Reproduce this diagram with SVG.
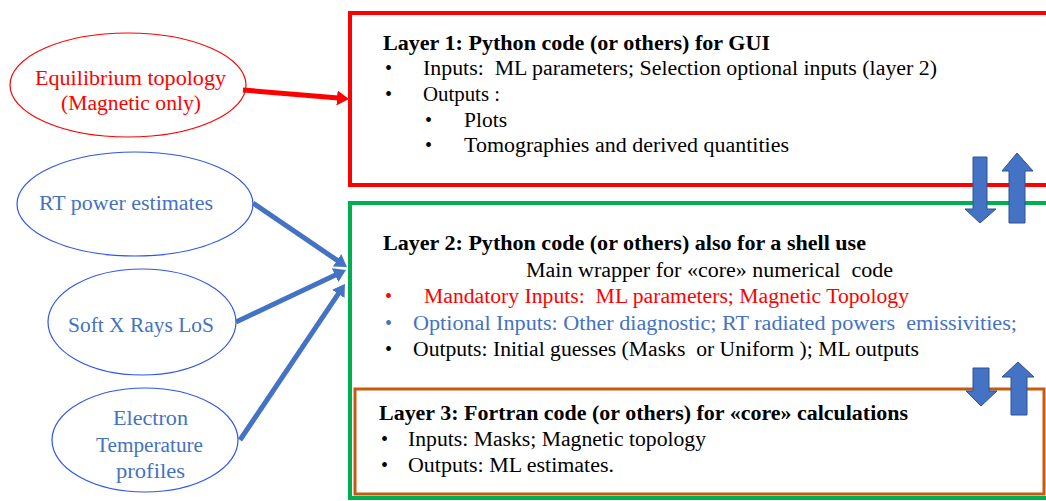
<svg xmlns="http://www.w3.org/2000/svg" width="1046" height="501" viewBox="0 0 1046 501">
<style>
text{font-family:"Times New Roman","Liberation Serif",serif;font-size:20px}
</style>
<defs>
<marker id="ar" markerWidth="3" markerHeight="3" refX="0.3" refY="1.5" orient="auto" markerUnits="strokeWidth"><path d="M0,0 L2.4,1.5 L0,3 Z" fill="#FF0000"/></marker>
<marker id="ab" markerWidth="3" markerHeight="3" refX="0.3" refY="1.5" orient="auto" markerUnits="strokeWidth"><path d="M0,0 L2.4,1.5 L0,3 Z" fill="#4472C4"/></marker>
</defs>
<rect width="1046" height="501" fill="#fff"/>
<g id="layer1" fill="#000">
<rect x="350" y="13" width="710" height="172" fill="none" stroke="#FF0000" stroke-width="4"/>
<text font-family="Times New Roman" font-size="20" font-weight="bold" x="383" y="50" textLength="387" lengthAdjust="spacingAndGlyphs">Layer 1: Python code (or others) for GUI</text>
<text font-family="Times New Roman" font-size="20" x="385" y="75">•</text>
<text font-family="Times New Roman" font-size="20" xml:space="preserve" x="423" y="75" textLength="514" lengthAdjust="spacingAndGlyphs">Inputs:  ML parameters; Selection optional inputs (layer 2)</text>
<text font-family="Times New Roman" font-size="20" x="385" y="101">•</text>
<text font-family="Times New Roman" font-size="20" x="423" y="101" textLength="77" lengthAdjust="spacingAndGlyphs">Outputs :</text>
<text font-family="Times New Roman" font-size="20" x="425" y="127">•</text>
<text font-family="Times New Roman" font-size="20" x="464" y="127" textLength="43" lengthAdjust="spacingAndGlyphs">Plots</text>
<text font-family="Times New Roman" font-size="20" x="425" y="152">•</text>
<text font-family="Times New Roman" font-size="20" x="464" y="152" textLength="325" lengthAdjust="spacingAndGlyphs">Tomographies and derived quantities</text>
</g>
<g id="layer2" fill="#000">
<rect x="350" y="203" width="710" height="295" fill="none" stroke="#00B050" stroke-width="4"/>
<text font-family="Times New Roman" font-size="20" font-weight="bold" x="383" y="250" textLength="483" lengthAdjust="spacingAndGlyphs">Layer 2: Python code (or others) also for a shell use</text>
<text font-family="Times New Roman" font-size="20" xml:space="preserve" x="526" y="277" textLength="367" lengthAdjust="spacingAndGlyphs">Main wrapper for «core» numerical  code</text>
<text font-family="Times New Roman" font-size="20" fill="#FF0000" x="385" y="303">•</text>
<text font-family="Times New Roman" font-size="20" fill="#FF0000" xml:space="preserve" x="424" y="303" textLength="485" lengthAdjust="spacingAndGlyphs">Mandatory Inputs:  ML parameters; Magnetic Topology</text>
<text font-family="Times New Roman" font-size="20" fill="#4472C4" x="385" y="330">•</text>
<text font-family="Times New Roman" font-size="20" fill="#4472C4" xml:space="preserve" x="413" y="330" textLength="604" lengthAdjust="spacingAndGlyphs">Optional Inputs: Other diagnostic; RT radiated powers  emissivities;</text>
<text font-family="Times New Roman" font-size="20" x="385" y="356">•</text>
<text font-family="Times New Roman" font-size="20" xml:space="preserve" x="413" y="356" textLength="506" lengthAdjust="spacingAndGlyphs">Outputs: Initial guesses (Masks  or Uniform ); ML outputs</text>
</g>
<g id="layer3" fill="#000">
<rect x="355" y="389" width="689" height="105" fill="none" stroke="#C55A11" stroke-width="3"/>
<text font-family="Times New Roman" font-size="20" font-weight="bold" x="379" y="420" textLength="529" lengthAdjust="spacingAndGlyphs">Layer 3: Fortran code (or others) for «core» calculations</text>
<text font-family="Times New Roman" font-size="20" x="381" y="446">•</text>
<text font-family="Times New Roman" font-size="20" x="408" y="446" textLength="298" lengthAdjust="spacingAndGlyphs">Inputs: Masks; Magnetic topology</text>
<text font-family="Times New Roman" font-size="20" x="381" y="472">•</text>
<text font-family="Times New Roman" font-size="20" x="408" y="472" textLength="206" lengthAdjust="spacingAndGlyphs">Outputs: ML estimates.</text>
</g>
<g id="equilibrium" fill="#FF0000">
<ellipse cx="128" cy="85" rx="118" ry="52" fill="#fff" stroke="#FF0000" stroke-width="1.2"/>
<text font-family="Times New Roman" font-size="20" x="35" y="85" textLength="191" lengthAdjust="spacingAndGlyphs">Equilibrium topology</text>
<text font-family="Times New Roman" font-size="20" x="61" y="110" textLength="140" lengthAdjust="spacingAndGlyphs">(Magnetic only)</text>
</g>
<g id="rtpower" fill="#4472C4">
<ellipse cx="135" cy="204" rx="118" ry="52" fill="#fff" stroke="#2F55EE" stroke-width="1.2"/>
<text font-family="Times New Roman" font-size="20" x="39" y="210" textLength="174" lengthAdjust="spacingAndGlyphs">RT power estimates</text>
</g>
<g id="sxr" fill="#4472C4">
<ellipse cx="142" cy="322" rx="94" ry="53" fill="#fff" stroke="#2F55EE" stroke-width="1.2"/>
<text font-family="Times New Roman" font-size="20" x="68" y="332" textLength="146" lengthAdjust="spacingAndGlyphs">Soft X Rays LoS</text>
</g>
<g id="electron" fill="#4472C4">
<ellipse cx="145" cy="440" rx="93" ry="52" fill="#fff" stroke="#2F55EE" stroke-width="1.2"/>
<text font-family="Times New Roman" font-size="20" x="113" y="425" textLength="75" lengthAdjust="spacingAndGlyphs">Electron</text>
<text font-family="Times New Roman" font-size="20" x="96" y="452" textLength="107" lengthAdjust="spacingAndGlyphs">Temperature</text>
<text font-family="Times New Roman" font-size="20" x="116" y="478" textLength="69" lengthAdjust="spacingAndGlyphs">profiles</text>
</g>
<g id="connectors">
<line x1="243" y1="90" x2="338.5" y2="98.1" stroke="#FF0000" stroke-width="5" marker-end="url(#ar)"/>
<g fill="none" stroke="#4472C4" stroke-width="5">
<line x1="253" y1="203" x2="338.3" y2="261.1" marker-end="url(#ab)"/>
<line x1="236" y1="322" x2="336.5" y2="274.5" marker-end="url(#ab)"/>
<line x1="240" y1="440" x2="339.1" y2="292.7" marker-end="url(#ab)"/>
</g>
<g fill="#4472C4" stroke="#2F528F" stroke-width="1">
<path d="M973,157 H987 V209 H996 L980,223 L965,209 H973 Z"/>
<path d="M1009,223 H1025 V171 H1033 L1017,153 L1002,171 H1009 Z"/>
<path d="M973,368 H989 V391 H997 L981,406 L966,391 H973 Z"/>
<path d="M1011,415 H1027 V377 H1034 L1018,362 L1002,377 H1011 Z"/>
</g>
</g>
</svg>
